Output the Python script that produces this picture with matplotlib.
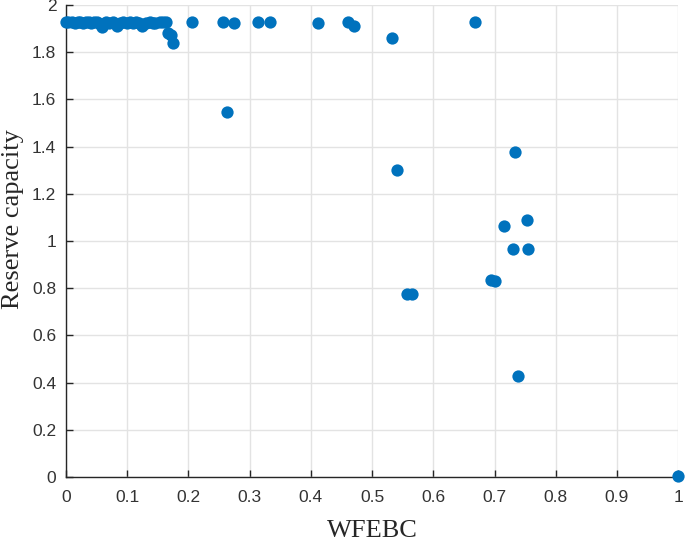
import matplotlib
matplotlib.use('Agg')
import matplotlib.pyplot as plt

# Dados (WFEBC x Reserve capacity)
wfebc = [0.000, 0.004, 0.009, 0.014, 0.019, 0.023, 0.027, 0.032, 0.037, 0.041,
         0.046, 0.051, 0.055, 0.058, 0.061, 0.066, 0.071, 0.077, 0.083, 0.088,
         0.093, 0.099, 0.104, 0.110, 0.115, 0.120, 0.124, 0.131, 0.137, 0.142,
         0.145, 0.153, 0.158, 0.164,
         0.167, 0.172, 0.175,
         0.206, 0.257, 0.275, 0.313, 0.334, 0.411, 0.461, 0.471, 0.532, 0.668,
         0.263, 0.540, 0.734, 0.716, 0.753, 0.731, 0.754, 0.694, 0.701,
         0.557, 0.566, 0.738, 1.000]
reserva = [1.927, 1.927, 1.927, 1.925, 1.927, 1.927, 1.922, 1.927, 1.927, 1.925,
           1.927, 1.927, 1.918, 1.908, 1.920, 1.927, 1.925, 1.927, 1.910, 1.922,
           1.927, 1.925, 1.927, 1.922, 1.927, 1.925, 1.910, 1.925, 1.927, 1.922,
           1.922, 1.927, 1.927, 1.927,
           1.880, 1.873, 1.840,
           1.927, 1.927, 1.925, 1.927, 1.927, 1.925, 1.927, 1.912, 1.859, 1.927,
           1.545, 1.300, 1.376, 1.065, 1.089, 0.965, 0.965, 0.836, 0.830,
           0.775, 0.775, 0.428, 0.005]

fig = plt.figure(figsize=(6.85, 5.43), dpi=100)
ax = fig.add_axes([0.0964, 0.1215, 0.8936, 0.8693])

ax.scatter(wfebc, reserva, s=78, color='#0072BD', zorder=3, clip_on=False,
           linewidths=0)

ax.set_xlim(0, 1)
ax.set_ylim(0, 2)
ax.set_xticks([i / 10 for i in range(11)])
ax.set_xticklabels(['0', '0.1', '0.2', '0.3', '0.4', '0.5', '0.6', '0.7', '0.8', '0.9', '1'])
ax.set_yticks([i / 5 for i in range(11)])
ax.set_yticklabels(['0', '0.2', '0.4', '0.6', '0.8', '1', '1.2', '1.4', '1.6', '1.8', '2'])

ax.grid(True, color='#e3e3e3', linewidth=1.0, zorder=0)
ax.set_axisbelow(True)
for lado in ['top', 'right']:
    ax.spines[lado].set_visible(False)
for lado in ['left', 'bottom']:
    ax.spines[lado].set_color('#262626')
    ax.spines[lado].set_linewidth(1.0)

ax.tick_params(direction='in', length=5, width=1.0, color='#262626',
               labelcolor='#333333', labelsize=12.5)
ax.tick_params(axis='x', pad=9)
ax.tick_params(axis='y', pad=7)
for rotulo in ax.get_xticklabels() + ax.get_yticklabels():
    rotulo.set_family('Liberation Sans')

ax.set_xlabel('WFEBC', family='Liberation Serif', fontsize=19, color='#262626', labelpad=11)
ax.set_ylabel('Reserve capacity', family='Liberation Serif', fontsize=19, color='#262626')
ax.yaxis.set_label_coords(-0.068, 0.547)

fig.savefig('out.png', dpi=100)
